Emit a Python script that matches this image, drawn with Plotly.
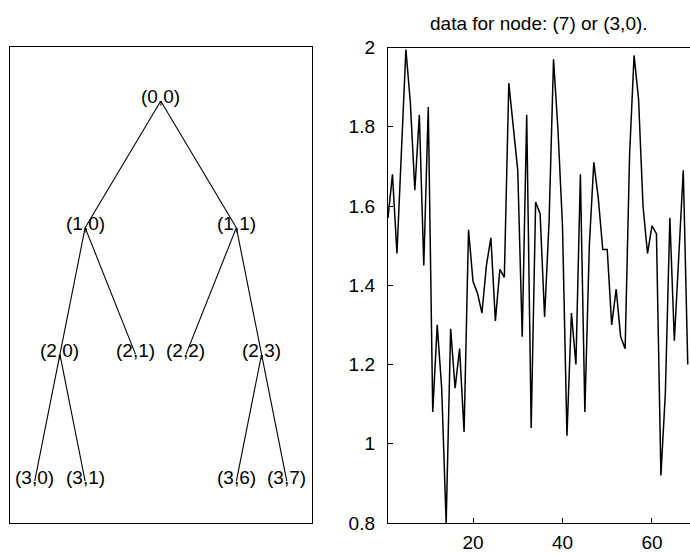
import plotly.graph_objects as go

# ---------------- data ----------------
node_labels = ["(0,0)", "(1,0)", "(1,1)", "(2,0)", "(2,1)", "(2,2)", "(2,3)",
               "(3,0)", "(3,1)", "(3,6)", "(3,7)"]
edges = [("(0,0)", "(1,0)"), ("(0,0)", "(1,1)"),
         ("(1,0)", "(2,0)"), ("(1,0)", "(2,1)"),
         ("(1,1)", "(2,2)"), ("(1,1)", "(2,3)"),
         ("(2,0)", "(3,0)"), ("(2,0)", "(3,1)"),
         ("(2,3)", "(3,6)"), ("(2,3)", "(3,7)")]

signal_values = [1.57, 1.68, 1.48, 1.74, 1.995, 1.86, 1.64, 1.83, 1.45, 1.85,
                 1.08, 1.30, 1.14, 0.80, 1.29, 1.14, 1.24, 1.03, 1.54, 1.41,
                 1.38, 1.33, 1.45, 1.52, 1.31, 1.44, 1.42, 1.91, 1.80, 1.69,
                 1.27, 1.83, 1.04, 1.61, 1.58, 1.32, 1.56, 1.97, 1.79, 1.55,
                 1.02, 1.33, 1.20, 1.68, 1.08, 1.50, 1.71, 1.62, 1.49, 1.49,
                 1.30, 1.39, 1.27, 1.24, 1.73, 1.98, 1.87, 1.60, 1.48, 1.55,
                 1.53, 0.92, 1.13, 1.57, 1.26, 1.47, 1.69, 1.20]
signal_index = list(range(1, len(signal_values) + 1))

y_ticks = [0.8, 1.0, 1.2, 1.4, 1.6, 1.8, 2.0]
y_tick_text = ["0.8", "1", "1.2", "1.4", "1.6", "1.8", "2"]
x_ticks = [20, 40, 60]
title_text = "data for node: (7) or (3,0)."

# ---------------- tree layout (leaves evenly spaced, parent = mean of its leaves) ----------------
children = {}
for p, c in edges:
    children.setdefault(p, []).append(c)

depth = {lab: int(lab.strip("()").split(",")[0]) for lab in node_labels}
leaf_pos = {}
counter = [0]


def collect(n):
    if n not in children:
        counter[0] += 1
        leaf_pos[n] = counter[0]
        return [counter[0]]
    out = []
    for c in children[n]:
        out += collect(c)
    leaf_pos[n] = sum(out) / len(out)
    return out


collect("(0,0)")

fig = go.Figure()

W, H = 690, 554
# tree panel domain (pixels -> paper)
tx0, tx1, ty0, ty1 = 9.5, 312, 47, 523
# signal panel domain
sx0, sx1, sy0, sy1 = 388, 690, 47.5, 523

for p, c in edges:
    fig.add_trace(go.Scatter(x=[leaf_pos[p], leaf_pos[c]], y=[depth[p], depth[c]],
                             mode="lines", line=dict(color="black", width=1.1),
                             xaxis="x", yaxis="y", showlegend=False, hoverinfo="skip"))

for lab in node_labels:
    fig.add_annotation(x=leaf_pos[lab], y=depth[lab], xref="x", yref="y", text=lab,
                       showarrow=False, yshift=4,
                       font=dict(family="Liberation Sans, Arial", size=19, color="black"))

fig.add_trace(go.Scatter(x=signal_index, y=signal_values, mode="lines",
                         line=dict(color="black", width=1.5),
                         xaxis="x2", yaxis="y2", showlegend=False))

fig.add_annotation(x=(sx0 + sx1) / 2 / W, y=1 - 23 / H, xref="paper", yref="paper",
                   text=title_text, showarrow=False, xanchor="center", yanchor="middle",
                   font=dict(family="Liberation Sans, Arial", size=19, color="black"))

frame = dict(showline=True, mirror=True, linecolor="black", linewidth=1.4,
             showgrid=False, zeroline=False)

fig.update_layout(
    width=W, height=H,
    margin=dict(l=0, r=0, t=0, b=0, autoexpand=False),
    paper_bgcolor="white", plot_bgcolor="white",
    font=dict(family="Liberation Sans, Arial", size=19, color="black"),
    xaxis=dict(domain=[tx0 / W, tx1 / W], range=[0.5, 6.5], showticklabels=False,
               ticks="", anchor="y", **frame),
    yaxis=dict(domain=[1 - ty1 / H, 1 - ty0 / H], range=[3.331, -0.426],
               showticklabels=False, ticks="", anchor="x", **frame),
    xaxis2=dict(domain=[sx0 / W, sx1 / W], range=[1, 68.5], tickvals=x_ticks,
                ticks="inside", ticklen=5, tickcolor="black", anchor="y2",
                ticklabelstandoff=2, **frame),
    yaxis2=dict(domain=[1 - sy1 / H, 1 - sy0 / H], range=[0.8, 2.0],
                tickvals=y_ticks, ticktext=y_tick_text, ticks="inside", ticklen=5,
                tickcolor="black", anchor="x2", ticklabelstandoff=8, **frame),
)

fig.write_html("out.html", config={"displayModeBar": False},
               post_script="document.body.style.margin='0';document.body.style.overflow='hidden';")
